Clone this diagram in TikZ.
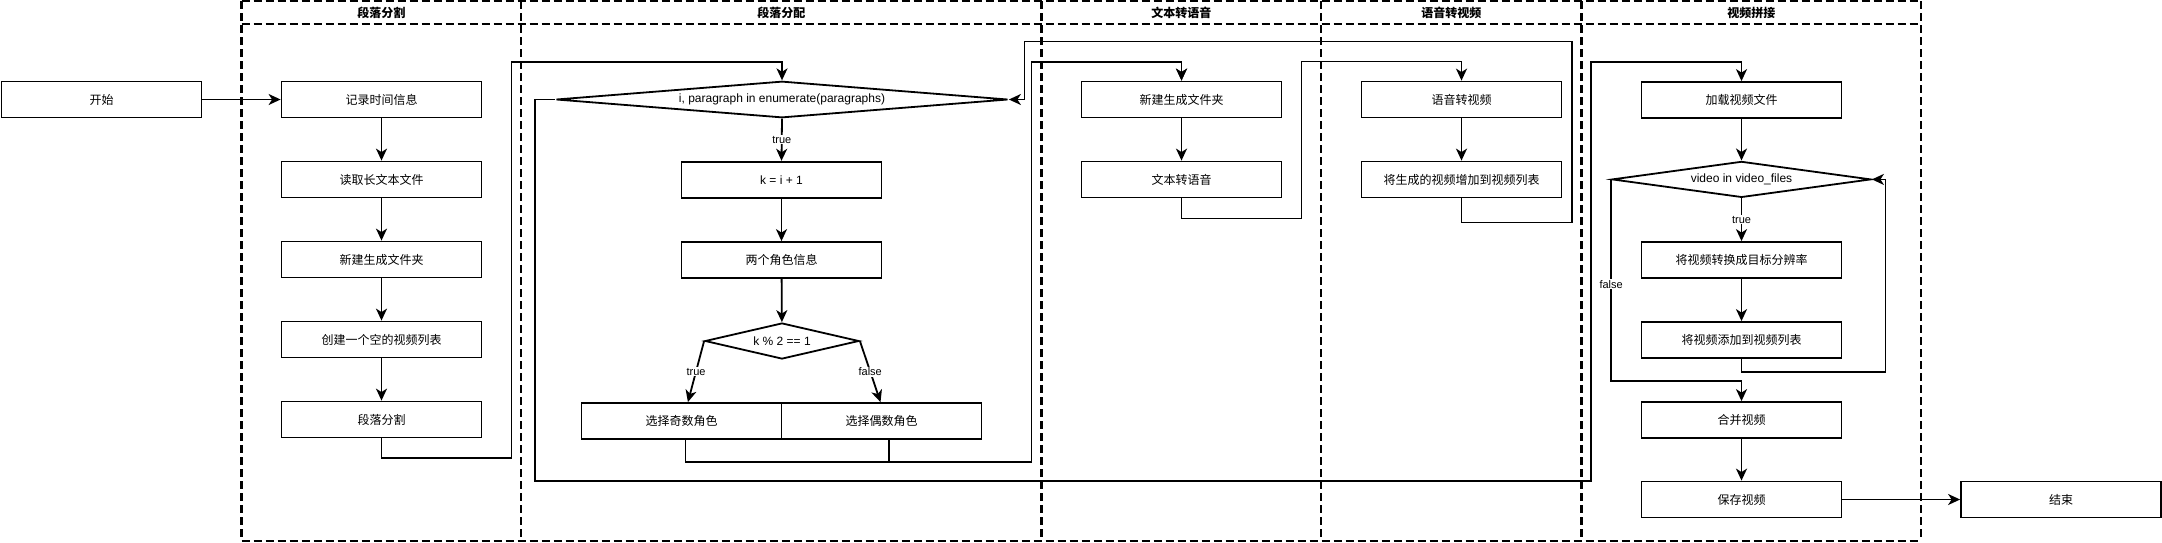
\documentclass[tikz,border=0pt]{standalone}
\usepackage{fontspec}
\setmainfont{Liberation Sans}
\newfontfamily\cjk{Noto Sans CJK SC}
\usetikzlibrary{shapes.geometric,arrows.meta}
\begin{document}
\begin{tikzpicture}[x=1pt,y=-1pt,
  box/.style={draw,line width=1.8pt,minimum width=200pt,minimum height=36pt,inner sep=0pt,font=\cjk\fontsize{12}{14}\selectfont},
  latin/.style={font=\fontsize{12}{14}\selectfont},
  dia/.style={draw,shape=diamond,line width=1.8pt,inner sep=0pt,font=\fontsize{12}{14}\selectfont},
  conn/.style={line width=1.8pt,-{Stealth[length=12pt,width=11pt,inset=3.5pt]}},
  lbl/.style={fill=white,font=\fontsize{11}{13}\selectfont,inner sep=1pt},
  lane/.style={draw,dash pattern=on 8pt off 4pt,line width=2.2pt},
  head/.style={font=\cjk\bfseries\fontsize{12}{14}\selectfont,inner sep=0pt}
]
\useasboundingbox (0,0) rectangle (2162,542);

% lanes
\draw[lane] (241.5,1.3) -- (1921,1.3);
\draw[lane] (241.5,24) -- (1921,24);
\draw[lane] (241.5,540.7) -- (1921,540.7);
\foreach \a in {241.5,521,1041.5,1321,1581.5,1921}{
  \draw[lane] (\a,1.3) -- (\a,540.7);
}
\node[head] (h1) at (381.25,13) {段落分割};
\node[head] (h2) at (781.25,13) {段落分配};
\node[head] (h3) at (1181.25,13) {文本转语音};
\node[head] (h4) at (1451.25,13) {语音转视频};
\node[head] (h5) at (1751.25,13) {视频拼接};

% nodes
\node[box] (st) at (101.5,99.5) {开始};
\node[box] (s1) at (381.5,99.5) {记录时间信息};
\node[box] (s2) at (381.5,179.5) {读取长文本文件};
\node[box] (s3) at (381.5,259.5) {新建生成文件夹};
\node[box] (s4) at (381.5,339.5) {创建一个空的视频列表};
\node[box] (s5) at (381.5,419.5) {段落分割};

\node[dia,minimum width=452pt,minimum height=36.5pt,aspect=12.4] (d1) at (782,99.5) {i, paragraph in enumerate(paragraphs)};
\node[box,latin] (k) at (781.5,179.7) {k = i + 1};
\node[box] (r2) at (781.5,260) {两个角色信息};
\node[dia,minimum width=154pt,minimum height=36pt,aspect=4.3] (d2) at (782,341) {k \% 2 == 1};
\node[box] (odd) at (681.5,421) {选择奇数角色};
\node[box] (even) at (881.5,421) {选择偶数角色};

\node[box] (n1) at (1181.5,99.5) {新建生成文件夹};
\node[box] (n2) at (1181.5,179.5) {文本转语音};

\node[box] (v1) at (1461.5,99.5) {语音转视频};
\node[box] (v2) at (1461.5,179.5) {将生成的视频增加到视频列表};

\node[box] (c1) at (1741.5,100) {加载视频文件};
\node[dia,minimum width=259pt,minimum height=36pt,aspect=7.2] (d3) at (1741.5,179.4) {video in video\_files};
\node[box] (t1) at (1741.5,260) {将视频转换成目标分辨率};
\node[box] (t2) at (1741.5,340) {将视频添加到视频列表};
\node[box] (mg) at (1741.5,420) {合并视频};
\node[box] (sv) at (1741.5,499.5) {保存视频};
\node[box] (en) at (2061,499.5) {结束};

% connectors
\draw[conn] (st.east) -- (s1.west);
\draw[conn] (s1) -- (s2);
\draw[conn] (s2) -- (s3);
\draw[conn] (s3) -- (s4);
\draw[conn] (s4) -- (s5);
\draw[conn] (s5.south) -- ++(0,19.5) -| (511.5,62) -| (d1.north);

\draw[conn] (d1.south) -- node[lbl] {true} (k.north);
\draw[conn] (k) -- (r2);
\draw[conn] (r2) -- (d2);
\draw[conn] (d2.west) -- node[lbl] {true} ([xshift=6.4pt]odd.north);
\draw[conn] (d2.east) -- node[lbl] {false} ([xshift=-1pt]even.north);
\draw[conn] ([xshift=4pt]odd.south) -- ++(0,22) -| (1031.4,62) -| (n1.north);
\draw[conn] ([xshift=7.5pt]even.south) -- ++(0,22) -| (1031.4,62) -| (n1.north);

\draw[conn] (n1) -- (n2);
\draw[conn] (n2.south) -- ++(0,20) -| (1301.4,61.5) -| (v1.north);
\draw[conn] (v1) -- (v2);
\draw[conn] (v2.south) -- ++(0,24) -| (1571.8,41.5) -| (1024.5,99.5) -- (d1.east);

\draw[conn] (d1.west) -- ++(-20,0) |- (1590.7,481) -- (1590.7,62) -| (c1.north);

\draw[conn] (c1) -- (d3);
\draw[conn] (d3.south) -- node[lbl] {true} (t1.north);
\draw[conn] (t1) -- (t2);
\draw[conn] (t2.south) -- ++(0,13) -| (1885.5,179.4) -- (d3.east);
\draw[conn] (d3.west) -- node[lbl,pos=0.52] {false} ++(0,201.6) -| (mg.north);
\draw[conn] (mg) -- (sv);
\draw[conn] (sv.east) -- (en.west);
\end{tikzpicture}
\end{document}
